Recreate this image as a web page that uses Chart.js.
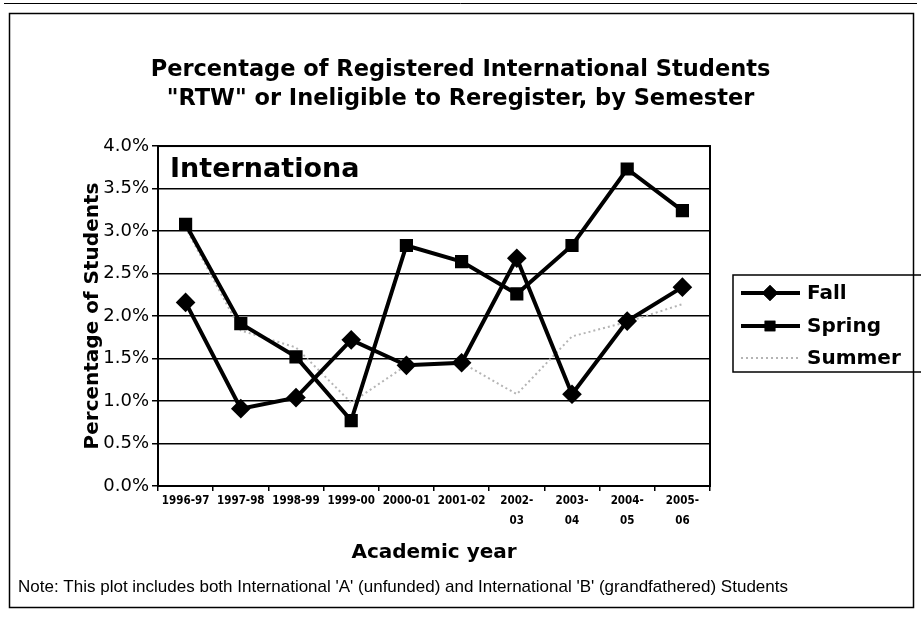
<!DOCTYPE html>
<html>
<head>
<meta charset="utf-8">
<script src="https://cdn.jsdelivr.net/npm/chart.js@4.4.1/dist/chart.umd.min.js"></script>
<style>
  html, body { margin: 0; padding: 0; background: #fff; }
  canvas { display: block; }
</style>
</head>
<body>
<canvas id="c" width="921" height="628"></canvas>
<script>
// ---- data ----
const categories = ['1996-97', '1997-98', '1998-99', '1999-00', '2000-01', '2001-02',
  ['2002-', '03'], ['2003-', '04'], ['2004-', '05'], ['2005-', '06']];
const fallValues   = [2.16, 0.91, 1.04, 1.72, 1.42, 1.45, 2.68, 1.08, 1.94, 2.34];
const springValues = [3.08, 1.91, 1.52, 0.77, 2.83, 2.64, 2.26, 2.83, 3.73, 3.24];
const summerValues = [3.04, 1.83, 1.63, 0.98, 1.42, 1.45, 1.08, 1.76, 1.93, 2.14];
const seriesNames  = ['Fall', 'Spring', 'Summer'];
const yTickMin = 0, yTickMax = 4, yTickStep = 0.5;
const titleLines = ['Percentage of Registered International Students',
  '"RTW" or Ineligible to Reregister, by Semester'];
const xTitle = 'Academic year';
const yTitle = 'Percentage of Students';
const overlayLabel = 'Internationa';
const noteText = "Note: This plot includes both International 'A' (unfunded) and International 'B' (grandfathered) Students";

const SANS = "'DejaVu Sans', Verdana, sans-serif";
const NARROW = "'Liberation Sans Narrow', 'DejaVu Sans Condensed', 'Liberation Sans', Arial, sans-serif";

const decorPlugin = {
  id: 'decor',
  beforeDraw(chart) {
    const ctx = chart.ctx;
    ctx.save();
    ctx.fillStyle = '#fff';
    ctx.fillRect(0, 0, chart.width, chart.height);
    ctx.restore();
  },
  afterDatasetsDraw(chart) {
    const ctx = chart.ctx;
    const a = chart.chartArea;
    ctx.save();
    // plot frame
    ctx.strokeStyle = '#000';
    ctx.lineWidth = 2;
    ctx.strokeRect(a.left, a.top, a.right - a.left, a.bottom - a.top);
    // overlay label
    ctx.fillStyle = '#000';
    ctx.font = "bold 27px " + SANS;
    ctx.textBaseline = 'middle';
    ctx.textAlign = 'left';
    ctx.fillText(overlayLabel, a.left + 12, a.top + 24, 192);
    ctx.restore();
  },
  afterDraw(chart) {
    const ctx = chart.ctx;
    ctx.save();
    // legend
    const lx = 733, ly = 275, lw = 190, lh = 97;
    ctx.strokeStyle = '#000';
    ctx.lineWidth = 1.5;
    ctx.strokeRect(lx, ly, lw, lh);
    const rows = [293, 326, 358];
    chart.data.datasets.forEach((ds, i) => {
      const y = rows[i];
      ctx.save();
      ctx.strokeStyle = ds.borderColor;
      ctx.lineWidth = ds.borderWidth;
      ctx.setLineDash(ds.borderDash || []);
      ctx.beginPath();
      ctx.moveTo(741, y);
      ctx.lineTo(800, y);
      ctx.stroke();
      ctx.restore();
      if (ds.pointRadius > 0) {
        Chart.helpers.drawPoint(ctx, {
          pointStyle: ds.pointStyle, radius: ds.pointRadius, rotation: 0, borderWidth: 1
        }, 770, y);
        ctx.fillStyle = '#000';
        ctx.strokeStyle = '#000';
        ctx.fill();
        ctx.stroke();
      }
      ctx.fillStyle = '#000';
      ctx.font = "bold 20px " + SANS;
      ctx.textAlign = 'left';
      ctx.textBaseline = 'middle';
      ctx.fillText(ds.label, 807, y + 1);
    });
    // note
    ctx.fillStyle = '#000';
    ctx.font = "17px 'Liberation Sans', Arial, sans-serif";
    ctx.textAlign = 'left';
    ctx.textBaseline = 'middle';
    ctx.fillText(noteText, 18, 587, 772);
    // outer frame
    ctx.strokeStyle = '#000';
    ctx.lineWidth = 1.5;
    ctx.strokeRect(9.5, 13.5, 904, 594);
    ctx.lineWidth = 1;
    ctx.beginPath();
    ctx.moveTo(4, 3.5); ctx.lineTo(917, 3.5);
    ctx.stroke();
    ctx.restore();
  }
};

new Chart(document.getElementById('c'), {
  type: 'line',
  data: {
    labels: categories,
    datasets: [
      {
        label: seriesNames[0], data: fallValues,
        borderColor: '#000', backgroundColor: '#000', borderWidth: 4,
        pointStyle: 'rectRot', pointRadius: 7, pointBackgroundColor: '#000', pointBorderColor: '#000',
        tension: 0, order: 1
      },
      {
        label: seriesNames[1], data: springValues,
        borderColor: '#000', backgroundColor: '#000', borderWidth: 4,
        pointStyle: 'rect', pointRadius: 6.5, pointBackgroundColor: '#000', pointBorderColor: '#000',
        tension: 0, order: 2
      },
      {
        label: seriesNames[2], data: summerValues,
        borderColor: '#b4b4b4', backgroundColor: '#b4b4b4', borderWidth: 2,
        borderDash: [2, 3], pointRadius: 0, tension: 0, order: 3
      }
    ]
  },
  options: {
    responsive: false,
    animation: false,
    devicePixelRatio: 1,
    layout: { padding: 0 },
    plugins: {
      legend: { display: false },
      tooltip: { enabled: false },
      title: {
        display: true, text: titleLines, color: '#000',
        font: { family: SANS, size: 22.5, weight: 'bold', lineHeight: 1.29 },
        padding: { top: 55.5, bottom: 32.5 }
      }
    },
    scales: {
      x: {
        offset: true,
        grid: { display: true, drawOnChartArea: false, drawTicks: true, tickLength: 5,
                color: '#000', lineWidth: 1.5, offset: true },
        border: { display: true, color: '#000', width: 2 },
        ticks: { color: '#000', maxRotation: 0, minRotation: 0, autoSkip: false, padding: 0,
                 font: { family: NARROW, size: 11.5, weight: 'bold', lineHeight: 1.75 } },
        title: { display: true, text: xTitle, color: '#000',
                 font: { family: SANS, size: 20, weight: 'bold', lineHeight: 1.2 },
                 padding: { top: 0, bottom: 63 } },
        afterFit(s) { s.height = 142; }
      },
      y: {
        position: 'left',
        min: yTickMin, max: yTickMax,
        grid: { color: '#000', lineWidth: 1.5, tickLength: 6 },
        border: { display: true, color: '#000', width: 2 },
        ticks: { stepSize: yTickStep, color: '#000', padding: 3,
                 font: { family: SANS, size: 18 },
                 callback: v => v.toFixed(1) + '%' },
        title: { display: true, text: yTitle, color: '#000',
                 font: { family: SANS, size: 20, weight: 'bold', lineHeight: 1.2 },
                 padding: { top: 81, bottom: 0 } },
        afterFit(s) { s.width = 158; }
      },
      legendSpace: {
        type: 'linear', position: 'right', display: true,
        grid: { display: false, drawTicks: false },
        border: { display: false },
        ticks: { display: false },
        afterFit(s) { s.width = 211; }
      }
    }
  },
  plugins: [decorPlugin]
});
</script>
</body>
</html>
